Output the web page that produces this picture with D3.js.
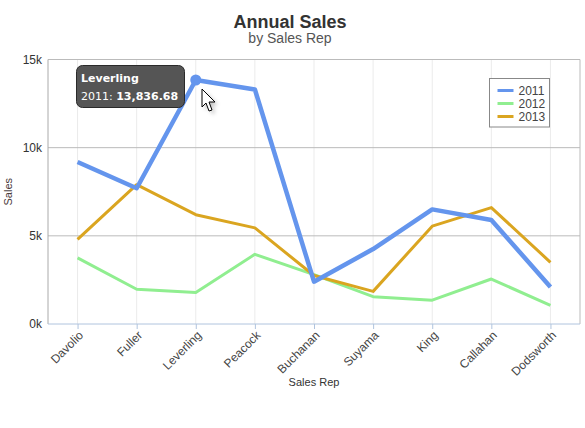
<!DOCTYPE html>
<html>
<head>
<meta charset="utf-8">
<script src="https://cdn.jsdelivr.net/npm/d3@7"></script>
<style>
  body { margin: 0; background: #fff; }
  text { font-family: "Liberation Sans", Arial, sans-serif; }
</style>
</head>
<body>
<script>
// sales per rep, by year
var reps = ["Davolio", "Fuller", "Leverling", "Peacock", "Buchanan", "Suyama", "King", "Callahan", "Dodsworth"];
var sales2011 = [9190, 7700, 13836.68, 13300, 2400, 4250, 6500, 5900, 2100];
var sales2012 = [3750, 1970, 1780, 3950, 2800, 1550, 1350, 2550, 1050];
var sales2013 = [4800, 7900, 6200, 5450, 2750, 1850, 5550, 6600, 3500];
var years = ["2011", "2012", "2013"];
var yTicks = [0, 5000, 10000, 15000];

var series = [
  { name: years[0], values: sales2011, color: "#6495ED", width: 4.5 },
  { name: years[1], values: sales2012, color: "#90EE90", width: 3 },
  { name: years[2], values: sales2013, color: "#DAA520", width: 3 }
];

var svg = d3.select("body")
  .append("svg")
  .attr("width", 585)
  .attr("height", 428);

// plot area edges
var pLeft = 48, pRight = 580, pTop = 59.5, pBottom = 324;

var x = d3.scalePoint()
  .domain(reps)
  .range([pLeft, pRight])
  .padding(0.5);

var y = d3.scaleLinear()
  .domain([0, 15000])
  .range([pBottom, pTop]);

// titles
svg.append("text")
  .attr("x", 290).attr("y", 27.5)
  .attr("text-anchor", "middle")
  .style("font-size", "18px")
  .style("font-weight", "bold")
  .style("fill", "#333")
  .text("Annual Sales");

svg.append("text")
  .attr("x", 290).attr("y", 43)
  .attr("text-anchor", "middle")
  .style("font-size", "14px")
  .style("fill", "#555")
  .text("by Sales Rep");

// vertical grid
svg.selectAll(".vgrid")
  .data(reps)
  .enter().append("line")
  .attr("x1", d => x(d)).attr("x2", d => x(d))
  .attr("y1", pTop).attr("y2", pBottom)
  .style("stroke", "#ebebeb")
  .style("stroke-width", 1);

// horizontal grid (15k line is the top of the frame)
svg.selectAll(".hgrid")
  .data(yTicks.slice(1))
  .enter().append("line")
  .attr("x1", pLeft).attr("x2", pRight)
  .attr("y1", d => y(d)).attr("y2", d => y(d))
  .style("stroke", "#bbb")
  .style("stroke-width", 1);

// plot frame (right and left)
svg.append("line")
  .attr("x1", pRight).attr("x2", pRight)
  .attr("y1", pTop).attr("y2", pBottom)
  .style("stroke", "#bbb");
svg.append("line")
  .attr("x1", pLeft).attr("x2", pLeft)
  .attr("y1", pTop).attr("y2", pBottom)
  .style("stroke", "#aaa");

// y axis labels
var yAxis = svg.append("g")
  .attr("transform", "translate(" + pLeft + ",0)")
  .call(d3.axisLeft(y).tickValues(yTicks).tickSize(0).tickPadding(6)
    .tickFormat(d => (d / 1000) + "k"));
yAxis.select(".domain").remove();
yAxis.attr("font-family", null).attr("font-size", null);
yAxis.selectAll("text")
  .style("font-size", "12px")
  .style("fill", "#333");

// x axis
var xAxis = svg.append("g")
  .attr("transform", "translate(0," + pBottom + ")")
  .call(d3.axisBottom(x).tickSize(5).tickSizeOuter(0));
xAxis.attr("font-family", null).attr("font-size", null);
xAxis.select(".domain")
  .attr("d", "M" + pLeft + ",0H" + pRight)
  .style("stroke", "#b0c4de");
xAxis.selectAll(".tick line").style("stroke", "#b0c4de");
xAxis.selectAll("text")
  .style("font-size", "12px")
  .style("fill", "#444")
  .attr("text-anchor", "end")
  .attr("x", 0)
  .attr("y", 0)
  .attr("dy", "0.35em")
  .attr("transform", "translate(3,9) rotate(-45)");

// axis titles
svg.append("text")
  .attr("transform", "translate(12," + ((pTop + pBottom) / 2) + ") rotate(-90)")
  .attr("text-anchor", "middle")
  .style("font-size", "11px")
  .style("fill", "#4a3a3a")
  .text("Sales");

svg.append("text")
  .attr("x", 314).attr("y", 386)
  .attr("text-anchor", "middle")
  .style("font-size", "11px")
  .style("fill", "#333")
  .text("Sales Rep");

// lines
var line = d3.line()
  .x((d, i) => x(reps[i]))
  .y(d => y(d));

// draw 2011 last so it sits on top
[series[1], series[2], series[0]].forEach(function (s) {
  svg.append("path")
    .datum(s.values)
    .attr("d", line)
    .style("fill", "none")
    .style("stroke", s.color)
    .style("stroke-width", s.width)
    .style("stroke-linejoin", "round");
});

// hovered point
var hi = 2;
svg.append("circle")
  .attr("cx", x(reps[hi]))
  .attr("cy", y(sales2011[hi]))
  .attr("r", 5.5)
  .style("fill", "#6495ED");

// legend
var legend = svg.append("g").attr("transform", "translate(489.5,78.5)");
legend.append("rect")
  .attr("width", 60).attr("height", 48.5)
  .style("fill", "#fff")
  .style("stroke", "#888");
series.forEach(function (s, i) {
  var ly = 12 + i * 13;
  legend.append("line")
    .attr("x1", 8).attr("x2", 24)
    .attr("y1", ly).attr("y2", ly)
    .style("stroke", s.color)
    .style("stroke-width", 3);
  legend.append("text")
    .attr("x", 29).attr("y", ly + 4.5)
    .style("font-size", "12px")
    .style("fill", "#444")
    .text(s.name);
});

// tooltip
var tip = svg.append("g").attr("transform", "translate(76.5,65.5)");
tip.append("rect")
  .attr("width", 108).attr("height", 42)
  .attr("rx", 6).attr("ry", 6)
  .style("fill", "#555")
  .style("stroke", "#2a2a2a")
  .style("stroke-width", 1);
tip.append("text")
  .attr("x", 4.5).attr("y", 16)
  .style("font-family", "'DejaVu Sans', sans-serif")
  .style("font-size", "11px")
  .style("font-weight", "bold")
  .style("fill", "#fff")
  .text(reps[hi]);
var t2 = tip.append("text")
  .attr("x", 4.5).attr("y", 34.5)
  .style("font-family", "'DejaVu Sans', sans-serif")
  .style("font-size", "11px")
  .style("fill", "#fff");
t2.append("tspan").text(years[0] + ": ");
t2.append("tspan")
  .style("font-weight", "bold")
  .text(d3.format(",.2f")(sales2011[hi]));

// mouse cursor
var cur = svg.append("g").attr("transform", "translate(202,89)");
cur.append("path")
  .attr("d", "M3,3 L3,21 L7,17 L10,25 L13,24 L10,16 L16,16 Z")
  .style("fill", "#000")
  .style("opacity", 0.25)
  .style("filter", "blur(2px)");
cur.append("path")
  .attr("d", "M0,0 L0,18 L4,14 L7,22 L10,21 L7,13 L13,13 Z")
  .style("fill", "#fff")
  .style("stroke", "#000")
  .style("stroke-width", 1);
</script>
</body>
</html>
